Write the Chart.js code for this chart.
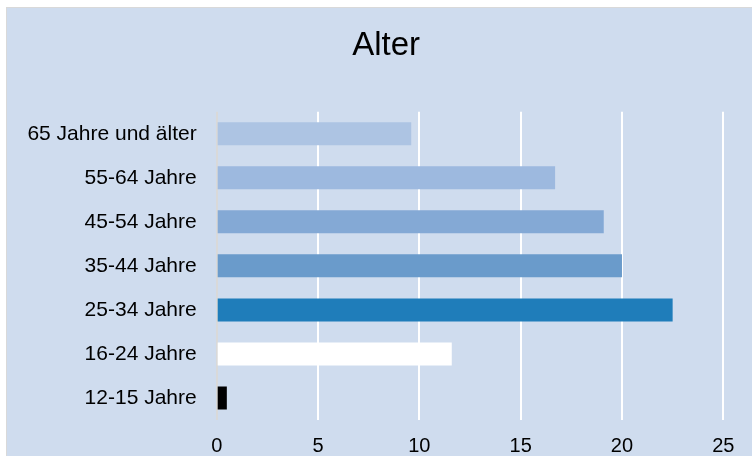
<!DOCTYPE html>
<html lang="de">
<head>
<meta charset="utf-8">
<title>Alter</title>
<script src="https://cdn.jsdelivr.net/npm/chart.js@4/dist/chart.umd.min.js"></script>
<style>
  html, body { margin: 0; padding: 0; background: #ffffff; }
  body { width: 752px; height: 456px; overflow: hidden; position: relative; }
  #frame {
    position: absolute; left: 6px; top: 7px;
    width: 745px; height: 448px;
    border-left: 1px solid #d9d9d9; border-top: 1px solid #d9d9d9;
    background: #cfdcee; overflow: hidden;
  }
  canvas { display: block; }
</style>
</head>
<body>
<div id="frame"><canvas id="chart" width="745" height="448"></canvas></div>
<script>
// Altersgruppen, von oben nach unten
const categories = [
  "65 Jahre und älter",
  "55-64 Jahre",
  "45-54 Jahre",
  "35-44 Jahre",
  "25-34 Jahre",
  "16-24 Jahre",
  "12-15 Jahre"
];
// Anteile in Prozent
const shares = [9.6, 16.7, 19.1, 20.0, 22.5, 11.6, 0.5];
const barColors = ["#adc4e3", "#9db9df", "#84a9d5", "#6a9bcb", "#1f7dba", "#ffffff", "#000000"];
const xTicks = [0, 5, 10, 15, 20, 25];

const FONT = "'Liberation Sans', Arial, sans-serif";

// The title is centred over the span from this offset to the right edge of the plot
const titleSpan = {
  id: "titleSpan",
  afterLayout(chart) {
    const t = chart.titleBlock;
    if (!t) return;
    t.left = 42;
    t.right = chart.chartArea.right;
    t.width = t.right - t.left;
  }
};

new Chart(document.getElementById("chart"), {
  type: "bar",
  data: {
    labels: categories,
    datasets: [{
      data: shares,
      backgroundColor: barColors,
      borderWidth: 0,
      barPercentage: 0.522,
      categoryPercentage: 1
    }]
  },
  options: {
    indexAxis: "y",
    responsive: false,
    animation: false,
    devicePixelRatio: 1,
    layout: { padding: { left: 0, right: 28.7, top: 0, bottom: 0 } },
    plugins: {
      legend: { display: false },
      tooltip: { enabled: false },
      title: {
        display: true,
        text: "Alter",
        color: "#000000",
        font: { family: FONT, size: 33, weight: "normal" },
        padding: { top: 18.2, bottom: 45.9 }
      }
    },
    scales: {
      x: {
        min: xTicks[0],
        max: xTicks[xTicks.length - 1],
        afterBuildTicks: (scale) => { scale.ticks = xTicks.map(v => ({ value: v })); },
        afterFit: (scale) => { scale.height = 36; },
        border: { display: false },
        grid: {
          drawTicks: false,
          lineWidth: 2,
          color: (ctx) => ctx.index === 0 ? "#d9d9d9" : "#ffffff"
        },
        ticks: {
          padding: 14.5,
          color: "#000000",
          font: { family: FONT, size: 20 }
        }
      },
      y: {
        afterFit: (scale) => { scale.width = 209.7; },
        border: { display: false },
        grid: { display: false, drawTicks: false },
        ticks: {
          padding: 20,
          color: "#000000",
          font: { family: FONT, size: 21 }
        }
      }
    }
  },
  plugins: [titleSpan]
});
</script>
</body>
</html>
